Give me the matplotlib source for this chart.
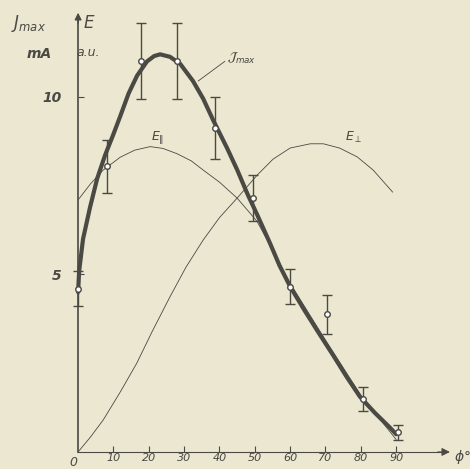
import matplotlib.pyplot as plt
import numpy as np

# measured points (phi in degrees, Jmax in mA)
phi_pts = [0, 8.3, 17.7, 28, 38.6, 49.4, 60, 70.3, 80.6, 90.5]
j_pts = [4.6, 8.05, 11.0, 11.0, 9.13, 7.16, 4.66, 3.88, 1.49, 0.55]
j_err = [0.5, 0.75, 1.07, 1.07, 0.87, 0.65, 0.5, 0.55, 0.35, 0.2]

# drawn curves
phi_j = [0, 0.3, 1.4, 3.4, 5.4, 7.6, 9.8, 11.9, 14.3, 16.7, 19.5, 21.5, 23.2,
         26, 28.9, 32.5, 35.4, 38.2, 42.2, 45, 48, 50.6, 54.3, 57, 60, 64,
         67.6, 72, 76.1, 79.8, 84, 88.3, 90]
j_fit = [4.5, 5.1, 6.0, 6.9, 7.7, 8.35, 8.9, 9.45, 10.1, 10.6, 11.0, 11.15,
         11.2, 11.13, 10.93, 10.45, 9.95, 9.35, 8.55, 7.95, 7.25, 6.7, 5.88,
         5.25, 4.66, 4.0, 3.43, 2.75, 2.1, 1.55, 1.1, 0.68, 0.5]

phi_par = [0, 3.5, 7.1, 11.9, 16, 20.4, 24, 28, 32, 35.4, 40, 45, 50.6, 55, 60,
           70, 80, 90]
e_par = [7.1, 7.55, 7.94, 8.3, 8.5, 8.6, 8.55, 8.4, 8.2, 7.94, 7.6, 7.15, 6.5,
         5.7, 4.75, 3.15, 1.6, 0.35]

phi_perp = [0, 3.5, 7.1, 12, 16.6, 21, 26, 30.5, 35.4, 40, 45, 50.7, 55.2, 60,
            65.7, 69.4, 74, 79, 83.5, 89]
e_perp = [0, 0.42, 0.9, 1.7, 2.5, 3.4, 4.37, 5.2, 5.97, 6.6, 7.15, 7.8, 8.25,
          8.56, 8.68, 8.68, 8.56, 8.31, 7.94, 7.32]

bg = '#ebe7d0'
ink = '#4a4944'

plt.rcParams['font.family'] = 'DejaVu Sans'
fig = plt.figure(figsize=(4.70, 4.69), dpi=100, facecolor=bg)
ax = fig.add_axes([0, 0, 1, 1], facecolor=bg)
ax.set_xlim(-22.1, 110.9)
ax.set_ylim(-0.48, 12.73)

for s in ['top', 'right']:
    ax.spines[s].set_visible(False)
ax.spines['left'].set_position(('data', 0))
ax.spines['bottom'].set_position(('data', 0))
ax.spines['left'].set_bounds(0, 12.2)
ax.spines['bottom'].set_bounds(0, 103)
ax.spines['left'].set_color(ink)
ax.spines['bottom'].set_color(ink)
ax.spines['left'].set_linewidth(1.2)
ax.spines['bottom'].set_linewidth(0.8)
ax.spines['bottom'].set_linestyle((0, (6, 1)))

ax.set_xticks([10, 20, 30, 40, 50, 60, 70, 80, 90])
ax.set_xticklabels(['10', '20', '30', '40', '50', '60', '70', '80', '90'],
                   fontstyle='italic', fontsize=8, color=ink)
ax.set_yticks([5, 10])
ax.set_yticklabels(['5', '10'], fontstyle='italic', fontweight='bold',
                   fontsize=10, color=ink)
ax.tick_params(axis='x', direction='in', length=4, color=ink, pad=1)
ax.tick_params(axis='y', direction='in', length=4, color=ink, pad=12)

# axis arrows
ax.annotate('', xy=(106, 0), xytext=(101, 0),
            arrowprops=dict(arrowstyle='-|>', color=ink, lw=0.8,
                            mutation_scale=12))
ax.annotate('', xy=(0, 12.45), xytext=(0, 12.0),
            arrowprops=dict(arrowstyle='-|>', color=ink, lw=1.0,
                            mutation_scale=10))

# curves
ax.plot(phi_par, e_par, color=ink, lw=0.6)
ax.plot(phi_perp, e_perp, color=ink, lw=0.6)
ax.plot(phi_j, j_fit, color=ink, lw=3.0, solid_capstyle='round',
        solid_joinstyle='round')
ax.errorbar(phi_pts, j_pts, yerr=j_err, fmt='o', ms=4, mfc='white',
            mec=ink, mew=1.0, ecolor=ink, elinewidth=1.0, capsize=3.5,
            capthick=1.0, zorder=5)

# labels
ax.text(-19, 11.95, r'$J_{max}$', fontsize=12, color=ink, fontstyle='italic')
ax.text(-14.5, 11.1, 'mA', fontsize=10, color=ink, fontstyle='italic',
        fontweight='bold')
ax.text(1.5, 11.95, 'E', fontsize=12, color=ink, fontstyle='italic')
ax.text(-0.5, 11.15, 'a.u.', fontsize=9, color=ink, fontstyle='italic')
ax.text(-2.5, -0.3, '0', fontsize=9, color=ink, fontstyle='italic',
        va='center')
ax.text(106.5, -0.15, r'$\phi$°', fontsize=10, color=ink, va='center')

ax.text(42, 11.0, r'$\mathcal{J}_{max}$', fontsize=9, color=ink)
ax.plot([34, 41.5], [10.45, 11.0], color=ink, lw=0.6)
ax.text(20.5, 8.8, r'$E_{\Vert}$', fontsize=9, color=ink)
ax.text(75.5, 8.75, r'$E_{\perp}$', fontsize=9, color=ink)

fig.savefig('out.png', dpi=100, facecolor=bg)
